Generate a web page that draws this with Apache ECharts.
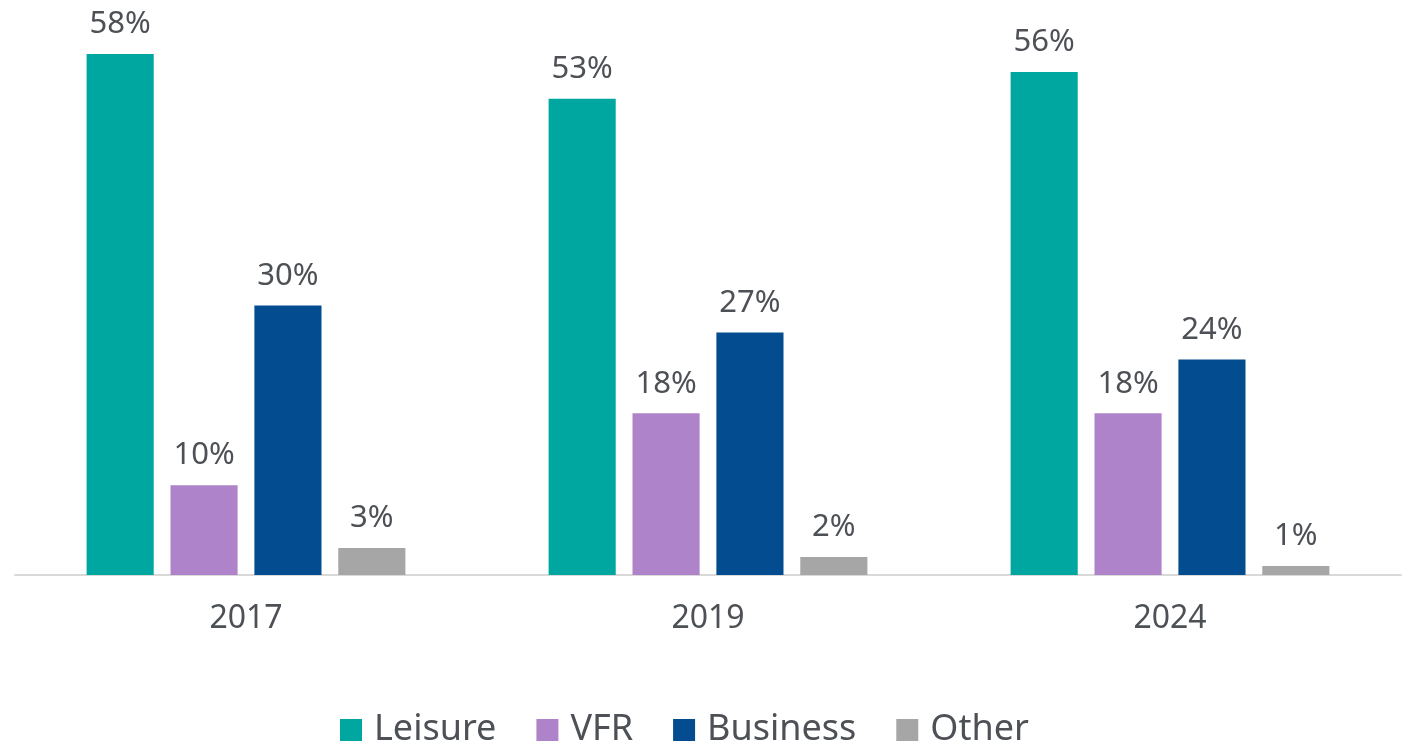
<!DOCTYPE html>
<html>
<head>
<meta charset="utf-8">
<script src="https://cdn.jsdelivr.net/npm/echarts@6/dist/echarts.min.js"></script>
<style>
  html, body { margin: 0; padding: 0; background: #fff; }
  #chart { width: 1409px; height: 746px; }
</style>
</head>
<body>
<div id="chart"></div>
<script>
    // categories and series values (percent)
    const years = ['2017', '2019', '2024'];
    const leisure = [58, 53, 56];
    const vfr = [10, 18, 18];
    const business = [30, 27, 24];
    const other = [3, 2, 1];

    const seriesNames = ['Leisure', 'VFR', 'Business', 'Other'];
    const seriesData = [leisure, vfr, business, other];
    const colors = ['#00A6A0', '#AF83C9', '#024C8F', '#A6A6A6'];

    const textColor = '#4D5156';
    const fontFamily = '"Noto Sans", sans-serif';

    const chart = echarts.init(document.getElementById('chart'));
    chart.setOption({
        animation: false,
        color: colors,
        legend: {
            left: 335,
            top: 707,
            itemWidth: 22,
            itemHeight: 22,
            itemGap: 40,
            icon: 'rect',
            textStyle: {
                color: textColor,
                fontSize: 36,
                fontFamily: fontFamily,
                padding: [0, 0, 0, 7]
            },
            data: seriesNames
        },
        grid: {
            left: 15,
            right: 8,
            top: 0,
            bottom: 171
        },
        xAxis: {
            type: 'category',
            data: years,
            axisLine: {lineStyle: {color: '#D9D9D9', width: 2}},
            axisTick: {show: false},
            axisLabel: {
                color: textColor,
                fontSize: 32,
                fontFamily: fontFamily,
                margin: 28
            }
        },
        yAxis: {
            type: 'value',
            min: 0,
            max: 64,
            show: false,
            splitLine: {show: false}
        },
        series: seriesNames.map((name, i) => ({
            name: name,
            type: 'bar',
            data: seriesData[i],
            barGap: '25%',
            barCategoryGap: '31%',
            label: {
                show: true,
                position: 'top',
                distance: 14,
                formatter: '{c}%',
                color: textColor,
                fontSize: 31,
                fontFamily: fontFamily
            }
        }))
    });
</script>
</body>
</html>
